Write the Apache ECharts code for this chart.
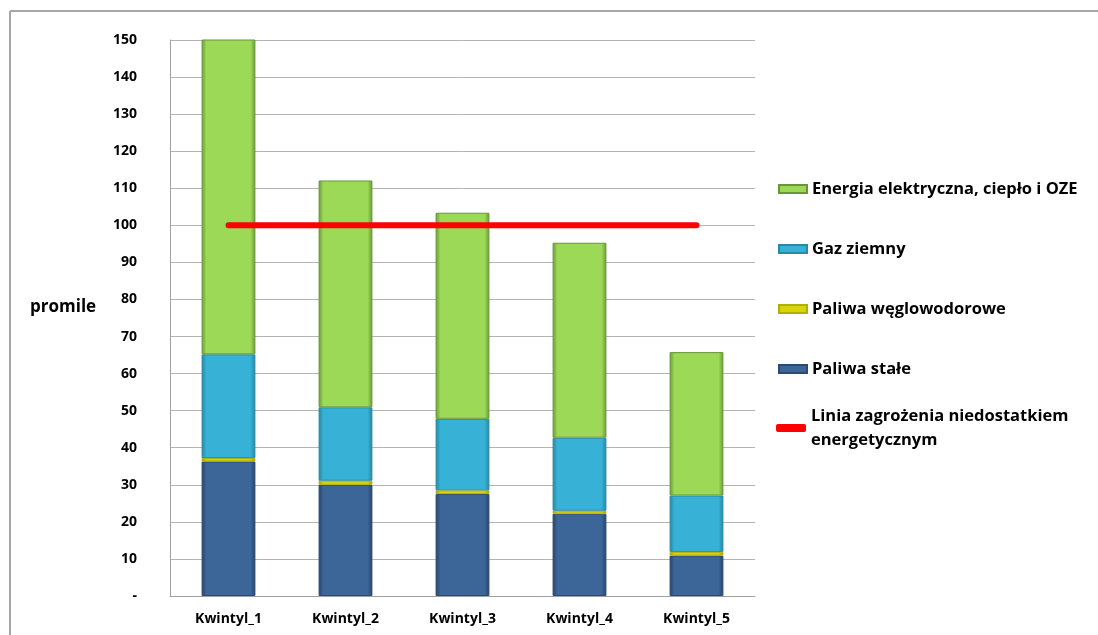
<!DOCTYPE html>
<html>
<head>
<meta charset="utf-8">
<script src="https://cdn.jsdelivr.net/npm/echarts@6/dist/echarts.min.js"></script>
<style>
  html, body { margin: 0; padding: 0; background: #fff; }
  #chart { width: 1098px; height: 635px; }
</style>
</head>
<body>
<div id="chart"></div>
<script>
// data (promile)
const categories = ["Kwintyl_1", "Kwintyl_2", "Kwintyl_3", "Kwintyl_4", "Kwintyl_5"];
const paliwaStale = [36.3, 30.0, 27.5, 22.2, 10.9];
const paliwaWeglowodorowe = [0.9, 1.1, 1.0, 0.8, 1.0];
const gazZiemny = [28.0, 19.8, 19.3, 19.7, 15.2];
const energia = [85.0, 61.2, 55.6, 52.6, 38.7];
const liniaZagrozenia = [100, 100, 100, 100, 100];
const yTicks = { min: 0, max: 150, interval: 10 };

const chart = echarts.init(document.getElementById("chart"));
const font = "'Open Sans', 'Liberation Sans', sans-serif";

// horizontal gradient, darker at the bar edges (bevel look)
function bevel(edge, mid) {
  return new echarts.graphic.LinearGradient(0, 0, 1, 0, [
    { offset: 0, color: edge },
    { offset: 0.09, color: mid },
    { offset: 0.91, color: mid },
    { offset: 1, color: edge }
  ]);
}

function barSeries(name, data, edge, mid, border) {
  return {
    name: name,
    type: "bar",
    stack: "total",
    barWidth: "46%",
    data: data,
    itemStyle: { color: bevel(edge, mid), borderColor: border, borderWidth: 1 },
    emphasis: { disabled: true }
  };
}

const option = {
  animation: false,
  backgroundColor: "#fff",
  textStyle: { fontFamily: font },
  graphic: [{
    type: "line",
    shape: { x1: 10, y1: 11, x2: 1098, y2: 11 },
    style: { stroke: "#a6a6a6", lineWidth: 2 },
    silent: true
  }, {
    type: "line",
    shape: { x1: 10, y1: 11, x2: 10, y2: 635 },
    style: { stroke: "#a6a6a6", lineWidth: 2 },
    silent: true
  }, {
    type: "text",
    left: 30, top: 299,
    style: { text: "promile", font: "bold 17px " + font, fill: "#000" }
  }],
  grid: { left: 170, right: 343, top: 40, bottom: 39 },
  legend: [{
    orient: "vertical",
    left: 778, top: 179,
    padding: 0,
    itemWidth: 28, itemHeight: 8,
    itemGap: 40,
    icon: "rect",
    textStyle: { fontFamily: font, fontWeight: "bold", fontSize: 16.5, color: "#000", lineHeight: 20 },
    data: ["Energia elektryczna, ciepło i OZE", "Gaz ziemny", "Paliwa węglowodorowe", "Paliwa stałe"]
  }, {
    orient: "vertical",
    left: 776, top: 392,
    padding: 0,
    itemWidth: 30, itemHeight: 8,
    textStyle: { fontFamily: font, fontWeight: "bold", fontSize: 16.5, color: "#000", lineHeight: 24, padding: [24, 0, 0, 0] },
    data: [{ name: "Linia zagrożenia niedostatkiem\nenergetycznym", icon: "roundRect" }]
  }],
  xAxis: {
    type: "category",
    data: categories,
    axisTick: { show: false },
    axisLine: { lineStyle: { color: "#a0a0a0", width: 1 } },
    axisLabel: { color: "#000", fontWeight: "bold", fontSize: 14, fontFamily: font, margin: 16 }
  },
  yAxis: {
    type: "value",
    min: yTicks.min, max: yTicks.max, interval: yTicks.interval,
    axisLine: { show: true, lineStyle: { color: "#a0a0a0" } },
    axisTick: { show: false },
    splitLine: { lineStyle: { color: "#b4b4b4", width: 1 } },
    axisLabel: {
      color: "#000", fontWeight: "bold", fontSize: 14, fontFamily: font, margin: 33,
      formatter: v => (v === 0 ? "-" : v)
    }
  },
  series: [
    barSeries("Paliwa stałe", paliwaStale, "#26426a", "#3d6698", "#2c4a72"),
    barSeries("Paliwa węglowodorowe", paliwaWeglowodorowe, "#a0a000", "#d6d60a", "#b0b000"),
    barSeries("Gaz ziemny", gazZiemny, "#26849e", "#37b2d6", "#2a8aa5"),
    barSeries("Energia elektryczna, ciepło i OZE", energia, "#6a9838", "#9bd956", "#6a963a"),
    {
      name: "Linia zagrożenia niedostatkiem\nenergetycznym",
      type: "line",
      data: liniaZagrozenia,
      symbol: "none",
      itemStyle: { color: "#ff0000" },
      lineStyle: { color: "#ff0000", width: 6, cap: "round" },
      z: 5
    }
  ]
};

chart.setOption(option);
window.addEventListener("resize", () => chart.resize());
</script>
</body>
</html>
